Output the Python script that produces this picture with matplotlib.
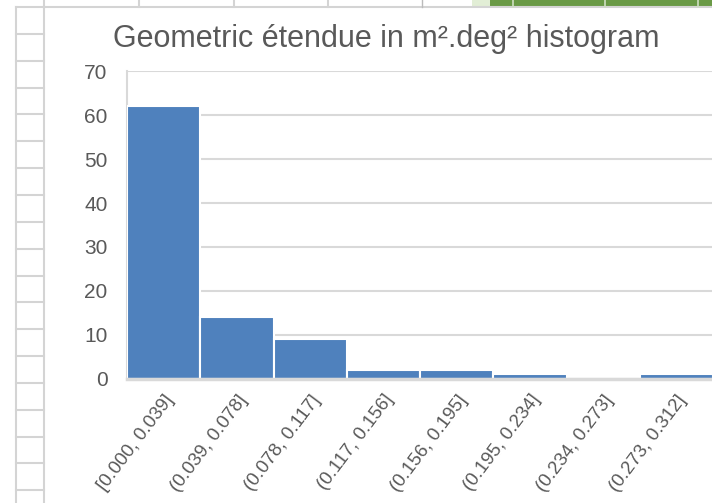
import matplotlib.pyplot as plt
import matplotlib.transforms as mtransforms
from matplotlib.lines import Line2D
from matplotlib.patches import Rectangle

# histogram bins and counts
bin_labels = [
    "[0.000, 0.039]",
    "(0.039, 0.078]",
    "(0.078, 0.117]",
    "(0.117, 0.156]",
    "(0.156, 0.195]",
    "(0.195, 0.234]",
    "(0.234, 0.273]",
    "(0.273, 0.312]",
]
counts = [62, 14, 9, 2, 2, 1, 0, 1]
y_ticks = [0, 10, 20, 30, 40, 50, 60, 70]

W, H = 712, 503
plt.rcParams["font.family"] = ["Liberation Sans", "DejaVu Sans"]
text_grey = "#595959"
grid_grey = "#D9D9D9"
cell_grey = "#D4D4D4"

fig = plt.figure(figsize=(W / 100, H / 100), dpi=100)
fig.patch.set_facecolor("white")


def px(x, y):
    # pixel position (from top-left) -> figure fraction
    return x / W, 1 - y / H


# --- spreadsheet cells around the chart (background decoration) ---
def hline(x0, x1, y, color=cell_grey, lw=1.5):
    (a, b), (c, _) = px(x0, y), px(x1, y)
    fig.add_artist(Line2D([a, c], [b, b], color=color, lw=lw, transform=fig.transFigure))


def vline(x, y0, y1, color=cell_grey, lw=1.5):
    (a, b), (_, d) = px(x, y0), px(x, y1)
    fig.add_artist(Line2D([a, a], [b, d], color=color, lw=lw, transform=fig.transFigure))


vline(16, 7, H)
vline(44, 0, H)
row = 7
while row < H:
    hline(16, 44, row)
    row += 26.85
hline(44, W, 7)
for xc in [139, 234, 328]:
    vline(xc, 0, 7)
vline(422, 0, 7, color="#BBBBBB", lw=1)

# green shape peeking in at the top right
x0, y0 = px(472, 7)
fig.add_artist(Rectangle((x0, y0), 18 / W, 7 / H, transform=fig.transFigure,
                         facecolor="#E2EED6", edgecolor="none"))
x0, y0 = px(490, 7)
fig.add_artist(Rectangle((x0, y0), (W - 490) / W, 7 / H, transform=fig.transFigure,
                         facecolor="#6A9A46", edgecolor="none"))
for xc in [513, 605, 698]:
    vline(xc, 0, 7, color="#CFDFC2", lw=1.2)

# --- chart ---
left, top = px(127, 71.3)
right, bottom = px(713, 378.7)
ax = fig.add_axes([left, bottom, right - left, top - bottom])

positions = list(range(len(counts)))
ax.bar(positions, counts, width=1.0, color="#4F81BD", edgecolor="white", linewidth=1.5, zorder=3)

ax.set_xlim(-0.5, len(counts) - 0.5)
ax.set_ylim(0, 70)
ax.set_yticks(y_ticks)
ax.set_xticks(positions)
ax.set_xticklabels(bin_labels, rotation=53, ha="right", va="center", rotation_mode="anchor")
ax.tick_params(axis="x", length=0, pad=13, labelsize=13.5, labelcolor=text_grey)
ax.tick_params(axis="y", length=0, pad=14, labelsize=15, labelcolor=text_grey)
shift = mtransforms.ScaledTranslation(7 / 100, 0, fig.dpi_scale_trans)
for lab in ax.get_xticklabels():
    lab.set_transform(lab.get_transform() + shift)

ax.grid(axis="y", color=grid_grey, linewidth=1.5, zorder=0)
ax.set_axisbelow(True)
ax.spines["right"].set_visible(False)
ax.spines["top"].set_visible(False)
ax.spines["left"].set_color(grid_grey)
ax.spines["left"].set_linewidth(1.5)
ax.spines["bottom"].set_color(grid_grey)
ax.spines["bottom"].set_linewidth(2.5)
ax.spines["bottom"].set_zorder(4)

tx, ty = px(386, 39)
fig.text(tx, ty, "Geometric étendue in m².deg² histogram", ha="center", va="center",
         fontsize=22, color=text_grey)

fig.savefig("out.png", dpi=100)
